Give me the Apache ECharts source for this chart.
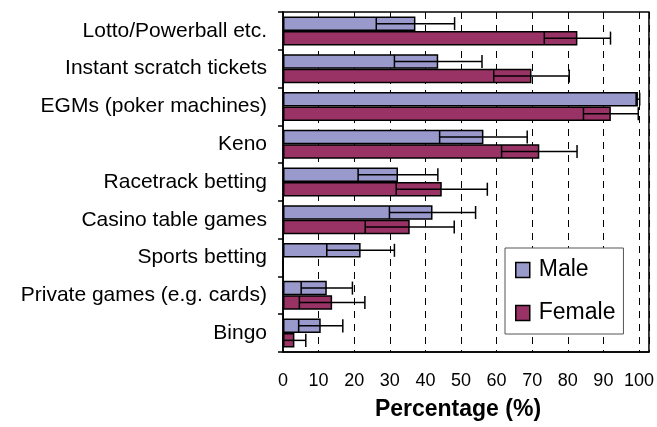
<!DOCTYPE html>
<html>
<head>
<meta charset="utf-8">
<script src="https://cdn.jsdelivr.net/npm/echarts@6/dist/echarts.min.js"></script>
<style>
html,body{margin:0;padding:0;background:#fff;}
#c{width:657px;height:427px;}
</style>
</head>
<body>
<div id="c"></div>
<script>
var categories = ["Lotto/Powerball etc.", "Instant scratch tickets", "EGMs (poker machines)", "Keno", "Racetrack betting", "Casino table games", "Sports betting", "Private games (e.g. cards)", "Bingo"];
var maleValues = [37.2, 43.6, 99.7, 56.3, 32.3, 42.0, 21.8, 12.3, 10.6];
var maleErrors = [11.0, 12.3, 0.5, 12.3, 11.2, 12.1, 9.5, 7.2, 6.2];
var femaleValues = [82.7, 69.8, 92.1, 72.0, 44.6, 35.6, 0, 13.8, 3.2];
var femaleErrors = [9.3, 10.6, 7.7, 10.6, 12.8, 12.5, 0, 9.2, 3.2];
var xTicks = [0, 10, 20, 30, 40, 50, 60, 70, 80, 90, 100];

var FONT = "'Liberation Sans', Arial, sans-serif";
var BAR_W = 14.5;

function errorSeries(values, errors, side) {
  var data = values.map(function (v, i) { return [v, i, errors[i]]; });
  return {
    type: 'custom',
    silent: true,
    z: 5,
    data: data,
    renderItem: function (params, api) {
      var v = api.value(0), idx = api.value(1), e = api.value(2);
      if (!e) return null;
      var c = api.coord([v, idx]);
      var y = c[1] + side * BAR_W / 2;
      var lo = api.coord([Math.max(0, v - e), idx])[0];
      var hi = api.coord([v + e, idx])[0];
      var capH = BAR_W * 0.9;
      var st = { stroke: '#000', lineWidth: 1.5 };
      return {
        type: 'group',
        children: [
          { type: 'line', shape: { x1: lo, y1: y, x2: hi, y2: y }, style: st },
          { type: 'line', shape: { x1: lo, y1: y - capH / 2, x2: lo, y2: y + capH / 2 }, style: st },
          { type: 'line', shape: { x1: hi, y1: y - capH / 2, x2: hi, y2: y + capH / 2 }, style: st }
        ]
      };
    }
  };
}

var chart = echarts.init(document.getElementById('c'), null, { renderer: 'canvas' });
chart.setOption({
  animation: false,
  backgroundColor: '#fff',
  textStyle: { fontFamily: FONT, color: '#000' },
  grid: { left: 283, right: 6, top: 12, bottom: 75, show: true, borderColor: '#000', borderWidth: 1.5, containLabel: false },
  legend: {
    orient: 'vertical',
    left: 505,
    top: 248,
    backgroundColor: '#fff',
    borderColor: '#555',
    borderWidth: 1,
    borderRadius: 0,
    padding: [10, 8, 9, 10],
    itemWidth: 14,
    itemHeight: 15,
    itemGap: 19,
    icon: 'rect',
    itemStyle: { borderColor: '#000', borderWidth: 1.5 },
    textStyle: { fontSize: 23, fontFamily: FONT, color: '#000', lineHeight: 24, padding: [0, 0, 0, 4] },
    data: ['Male', 'Female']
  },
  xAxis: {
    type: 'value',
    min: 0,
    max: 102.8,
    interval: 10,
    axisLine: { show: true, lineStyle: { color: '#000', width: 1.5 } },
    axisTick: { show: false },
    splitLine: { show: true, lineStyle: { color: '#000', type: [7, 6], width: 1 } },
    axisLabel: {
      fontSize: 18, color: '#000', fontFamily: FONT, margin: 20,
      showMaxLabel: false,
      formatter: function (v) { return xTicks.indexOf(v) >= 0 ? String(v) : ''; }
    },
    name: 'Percentage (%)',
    nameLocation: 'middle',
    nameGap: 46,
    nameTextStyle: { fontSize: 23, fontWeight: 'bold', color: '#000', fontFamily: FONT, padding: [0, 16, 0, 0] }
  },
  yAxis: {
    type: 'category',
    inverse: true,
    data: categories,
    axisLine: { show: true, lineStyle: { color: '#000', width: 1.5 } },
    axisTick: { show: true, length: 5, lineStyle: { color: '#000', width: 1.5 } },
    axisLabel: { fontSize: 21, color: '#000', fontFamily: FONT, margin: 16 },
    splitLine: { show: false }
  },
  series: [
    {
      name: 'Male', type: 'bar', data: maleValues, barWidth: BAR_W, barGap: '0%',
      itemStyle: { color: '#9999CC', borderColor: '#000', borderWidth: 1.5 }
    },
    {
      name: 'Female', type: 'bar', data: femaleValues, barWidth: BAR_W, barGap: '0%',
      itemStyle: { color: '#993366', borderColor: '#000', borderWidth: 1.5 }
    },
    errorSeries(maleValues, maleErrors, -1),
    errorSeries(femaleValues, femaleErrors, 1)
  ]
});
</script>
</body>
</html>
